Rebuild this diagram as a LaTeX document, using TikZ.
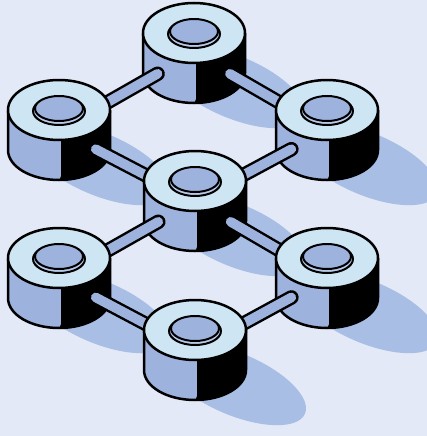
\documentclass[tikz,border=0pt]{standalone}
\usetikzlibrary{calc}
\definecolor{bgc}{HTML}{E3E9F6}
\definecolor{facec}{HTML}{CEE6F3}
\definecolor{sidec}{HTML}{9EB2DE}
\definecolor{shadc}{HTML}{A8BEE4}
\definecolor{rimc}{HTML}{B8CAEB}
% puck geometry: top-face radii and body height
\def\prx{51}\def\pry{30}\def\ph{40}

\tikzset{
  outline/.style={draw=black, line width=2.5pt, line join=round},
  rodedge/.style={draw=black, line width=14.5pt, line cap=round},
  rodcore/.style={draw=sidec, line width=9.6pt, line cap=round},
}

% shadow cast to the lower right of a puck
\newcommand\puckshadow[1]{%
  \begin{scope}[shift={(#1)}, shift={(40,{-\ph-14})}, rotate=-23]
    \fill[shadc] (0,0) ellipse [x radius=76, y radius=31];
  \end{scope}}

% a puck whose top face is centred on the named coordinate
\newcommand\puck[1]{%
  \begin{scope}[shift={(#1)}]
    \fill[black] (-\prx,0) -- (-\prx,-\ph)
      arc[start angle=180, end angle=360, x radius=\prx, y radius=\pry]
      -- (\prx,0) -- cycle;
    \fill[sidec, rounded corners=4pt] (-\prx,0) -- (-\prx,-\ph)
      arc[start angle=180, end angle=272.2, x radius=\prx, y radius=\pry]
      -- (2,0) -- cycle;
    \draw[outline] (-\prx,0) -- (-\prx,-\ph)
      arc[start angle=180, end angle=360, x radius=\prx, y radius=\pry]
      -- (\prx,0);
    \filldraw[outline, fill=facec] (0,0) ellipse [x radius=\prx, y radius=\pry];
    \filldraw[outline, fill=rimc, line width=2pt] (0,-1) ellipse [x radius=26, y radius=14];
    \filldraw[outline, fill=sidec, line width=2pt] (0,1.5) ellipse [x radius=24, y radius=12.5];
  \end{scope}}

% rod from the front of puck #1 into the body of puck #2 (mid-height points)
\newcommand\rod[2]{%
  \draw[rodedge] ($(#1m)!0.27!(#2m)$) -- (#2m);
  \draw[rodcore] ($(#1m)!0.27!(#2m)$) -- (#2m);}

\begin{document}
\begin{tikzpicture}[x=1pt, y=1pt]
  \fill[bgc] (0,0) rectangle (427,-436);
  \useasboundingbox (0,0) rectangle (427,-436);

  % top-face centres
  \coordinate (top) at (194,-33);
  \coordinate (lu)  at (59,-110);
  \coordinate (ru)  at (327,-110);
  \coordinate (ce)  at (195,-181);
  \coordinate (ll)  at (59,-258);
  \coordinate (rl)  at (327,-258);
  \coordinate (bo)  at (195,-330);
  % mid-height points where the rods meet the bodies
  \foreach \n in {top,lu,ru,ce,ll,rl,bo}
    \coordinate (\n m) at ($(\n)+(0,-20)$);

  \foreach \n in {top,lu,ru,ce,ll,rl,bo}
    \puckshadow{\n};

  \puck{top}
  \rod{top}{lu}
  \rod{top}{ru}
  \puck{lu}
  \puck{ru}
  \rod{lu}{ce}
  \rod{ru}{ce}
  \puck{ce}
  \rod{ce}{ll}
  \rod{ce}{rl}
  \puck{ll}
  \puck{rl}
  \rod{ll}{bo}
  \rod{rl}{bo}
  \puck{bo}
\end{tikzpicture}
\end{document}
